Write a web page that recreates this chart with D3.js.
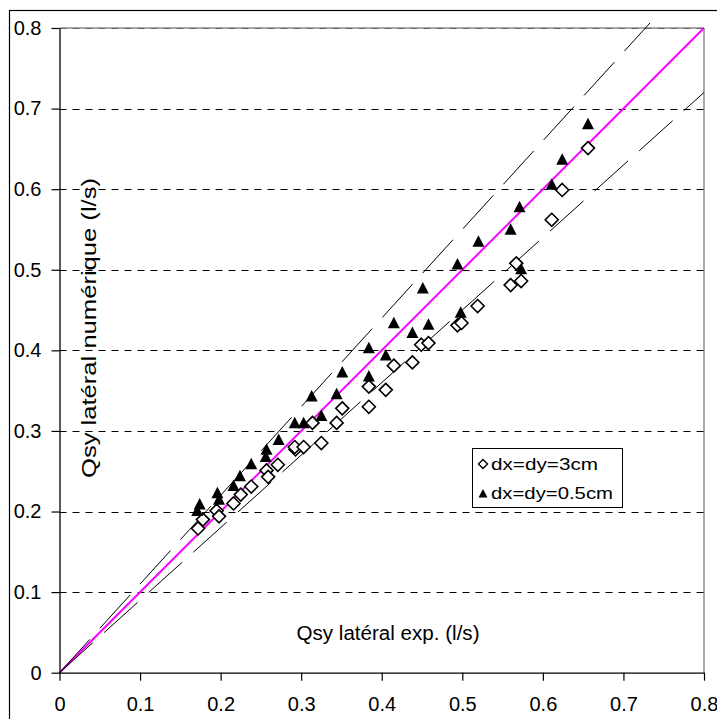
<!DOCTYPE html>
<html>
<head>
<meta charset="utf-8">
<script src="https://cdn.jsdelivr.net/npm/d3@7"></script>
<style>
  html, body { margin: 0; padding: 0; background: #fff; }
  svg { display: block; font-family: "Liberation Sans", Arial, sans-serif; }
</style>
</head>
<body>
<div id="chart"></div>
<script>
// ---- data ----
const xTicks = [0, 0.1, 0.2, 0.3, 0.4, 0.5, 0.6, 0.7, 0.8];
const yTicks = [0, 0.1, 0.2, 0.3, 0.4, 0.5, 0.6, 0.7, 0.8];
const tickLabels = ["0", "0.1", "0.2", "0.3", "0.4", "0.5", "0.6", "0.7", "0.8"];

const seriesNames = ["dx=dy=3cm", "dx=dy=0.5cm"];

// dx=dy=3cm  (diamonds)
const coarseX = [0.172, 0.178, 0.195, 0.198, 0.216, 0.225, 0.238, 0.257, 0.259, 0.271, 0.293,
                 0.292, 0.303, 0.325, 0.314, 0.344, 0.351, 0.384, 0.384, 0.405, 0.415, 0.438,
                 0.449, 0.458, 0.494, 0.499, 0.519, 0.560, 0.573, 0.567, 0.611, 0.624, 0.656];
const coarseY = [0.179, 0.190, 0.201, 0.194, 0.210, 0.221, 0.231, 0.251, 0.243, 0.258, 0.277,
                 0.280, 0.280, 0.285, 0.310, 0.310, 0.328, 0.330, 0.355, 0.351, 0.381, 0.385,
                 0.407, 0.409, 0.431, 0.434, 0.455, 0.481, 0.486, 0.508, 0.562, 0.599, 0.651];

// dx=dy=0.5cm (triangles)
const fineX = [0.174, 0.171, 0.196, 0.198, 0.216, 0.224, 0.238, 0.257, 0.256, 0.272,
               0.292, 0.303, 0.313, 0.325, 0.344, 0.351, 0.384, 0.384, 0.405, 0.415,
               0.438, 0.458, 0.451, 0.498, 0.494, 0.520, 0.560, 0.571, 0.573, 0.611,
               0.624, 0.656];
const fineY = [0.208, 0.200, 0.222, 0.214, 0.231, 0.243, 0.258, 0.276, 0.267, 0.288,
               0.309, 0.309, 0.342, 0.318, 0.345, 0.372, 0.367, 0.402, 0.393, 0.433,
               0.421, 0.431, 0.476, 0.446, 0.506, 0.534, 0.549, 0.577, 0.500, 0.605,
               0.636, 0.680];

// reference lines: y = k * x, drawn from x = 0 to xEnd
const refSlopes = [1.0, 1.1, 0.9];
const refXEnd = [0.8, 0.733, 0.8];

// ---- chart ----
const W = 717, H = 719;
const svg = d3.select("#chart").append("svg").attr("width", W).attr("height", H);

const x = d3.scaleLinear().domain([0, 0.8]).range([59.5, 704]);
const y = d3.scaleLinear().domain([0, 0.8]).range([672.7, 28]);

// outer chart border (extends beyond the picture on right and bottom)
svg.append("rect").attr("x", 9.5).attr("y", 10.5).attr("width", 760).attr("height", 760)
  .attr("fill", "none").attr("stroke", "#000").attr("stroke-width", 1.2);

// plot-area border (grey, top & right)
svg.append("line").attr("x1", x(0)).attr("x2", x(0.8)).attr("y1", y(0.8)).attr("y2", y(0.8))
  .attr("stroke", "#8c8c8c").attr("stroke-width", 1.5);
svg.append("line").attr("x1", x(0.8)).attr("x2", x(0.8)).attr("y1", y(0.8)).attr("y2", y(0))
  .attr("stroke", "#8c8c8c").attr("stroke-width", 1.5);

// horizontal dashed gridlines
svg.append("g").selectAll("line").data(yTicks.filter(v => v > 0)).join("line")
  .attr("x1", x(0)).attr("x2", x(0.8))
  .attr("y1", d => Math.round(y(d)) + 0.5).attr("y2", d => Math.round(y(d)) + 0.5)
  .attr("stroke", d => d === 0.8 ? "#666" : "#000")
  .attr("stroke-width", 1)
  .attr("stroke-dasharray", "7,6");

// reference lines
const refG = svg.append("g");
refSlopes.forEach((k, i) => {
  const pts = [[0, 0], [refXEnd[i], k * refXEnd[i]]];
  refG.append("path")
    .attr("d", d3.line().x(d => x(d[0])).y(d => y(d[1]))(pts))
    .attr("fill", "none")
    .attr("stroke", i === 0 ? "#ff00ff" : "#000")
    .attr("stroke-width", i === 0 ? 2 : 1)
    .attr("stroke-dasharray", i === 0 ? null : "45,15");
});

// axes
const xAxis = d3.axisBottom(x).tickValues(xTicks).tickFormat((d, i) => tickLabels[i])
  .tickSizeInner(8).tickSizeOuter(0).tickPadding(13);
const yAxis = d3.axisLeft(y).tickValues(yTicks).tickFormat((d, i) => tickLabels[i])
  .tickSizeInner(8).tickSizeOuter(0).tickPadding(10);

const gx = svg.append("g").attr("transform", `translate(0,${y(0)})`).call(xAxis);
const gy = svg.append("g").attr("transform", `translate(${x(0)},0)`).call(yAxis);
[gx, gy].forEach(g => {
  g.select(".domain").attr("stroke", "#000").attr("stroke-width", 1.3);
  g.selectAll(".tick line").attr("stroke", "#000").attr("stroke-width", 1.2);
  g.selectAll(".tick text").attr("fill", "#000")
    .style("font-size", "20px").style("font-family", "'Liberation Sans', Arial, sans-serif");
});
gx.selectAll(".tick text").attr("dy", "0.85em");

// axis titles (inside the plot)
svg.append("text").attr("x", 388).attr("y", 640).attr("text-anchor", "middle")
  .style("font-size", "20px")
  .attr("textLength", 183).attr("lengthAdjust", "spacingAndGlyphs")
  .text("Qsy latéral exp. (l/s)");
svg.append("text").attr("transform", "translate(96,328) rotate(-90)")
  .attr("text-anchor", "middle").style("font-size", "21px")
  .attr("textLength", 300).attr("lengthAdjust", "spacingAndGlyphs")
  .text("Qsy latéral numérique (l/s)");

// markers
const diamond = "M0,-6.5L6.5,0L0,6.5L-6.5,0Z";
const triangle = "M0,-7L6,4.5L-6,4.5Z";

svg.append("g").selectAll("path").data(coarseX.map((v, i) => [v, coarseY[i]])).join("path")
  .attr("d", diamond)
  .attr("transform", d => `translate(${x(d[0])},${y(d[1])})`)
  .attr("fill", "#fff").attr("stroke", "#000").attr("stroke-width", 1.6);

svg.append("g").selectAll("path").data(fineX.map((v, i) => [v, fineY[i]])).join("path")
  .attr("d", triangle)
  .attr("transform", d => `translate(${x(d[0])},${y(d[1])})`)
  .attr("fill", "#000");

// legend
const lg = svg.append("g");
lg.append("rect").attr("x", 472.5).attr("y", 448.5).attr("width", 150).attr("height", 59)
  .attr("fill", "#fff").attr("stroke", "#000").attr("stroke-width", 1);
lg.append("path").attr("d", "M0,-4.5L4.5,0L0,4.5L-4.5,0Z")
  .attr("transform", "translate(483,464)")
  .attr("fill", "#fff").attr("stroke", "#000").attr("stroke-width", 1.4);
lg.append("path").attr("d", "M0,-5L4.5,3.5L-4.5,3.5Z")
  .attr("transform", "translate(483,494)").attr("fill", "#000");
lg.append("text").attr("x", 491).attr("y", 470).style("font-size", "17px")
  .attr("textLength", 107).attr("lengthAdjust", "spacingAndGlyphs").text(seriesNames[0]);
lg.append("text").attr("x", 491).attr("y", 499).style("font-size", "17px")
  .attr("textLength", 122).attr("lengthAdjust", "spacingAndGlyphs").text(seriesNames[1]);
</script>
</body>
</html>
